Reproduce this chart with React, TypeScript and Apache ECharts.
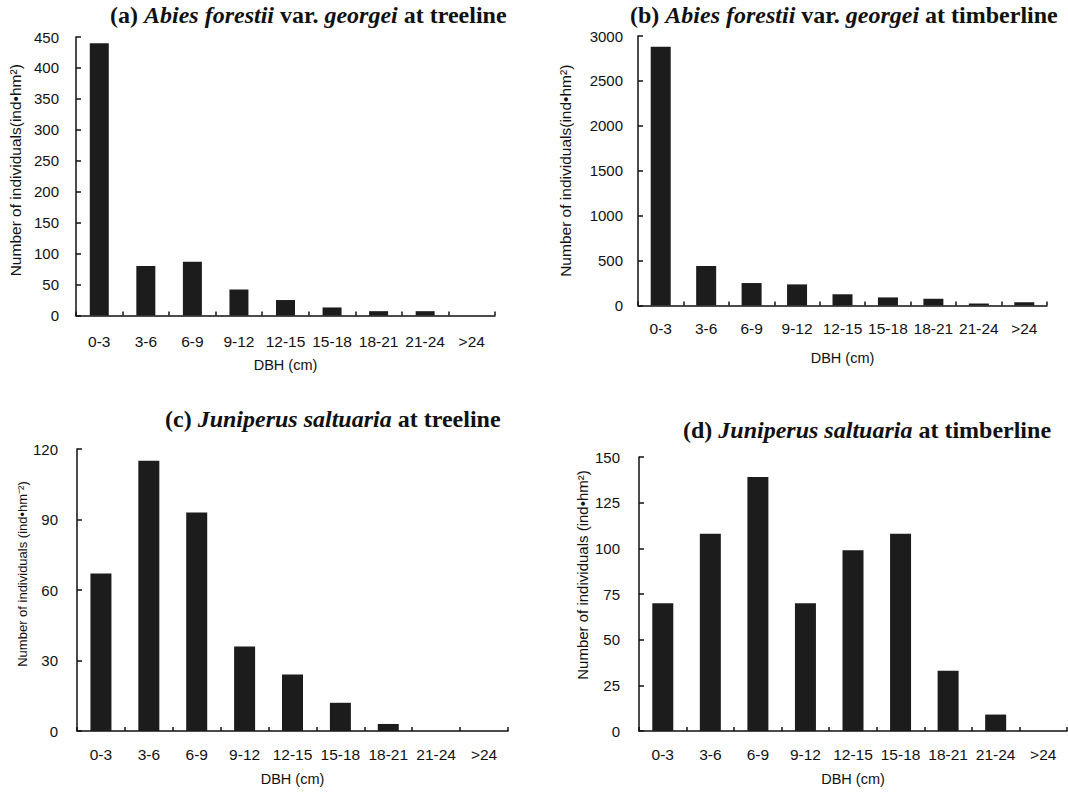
import React, { useEffect, useRef } from "react";
import * as echarts from "echarts";

const categories = ["0-3", "3-6", "6-9", "9-12", "12-15", "15-18", "18-21", "21-24", ">24"];
const valuesA = [440, 80, 87, 42, 25, 13, 7, 7, 0];
const valuesB = [2880, 440, 250, 235, 125, 90, 75, 22, 37];
const valuesC = [67, 115, 93, 36, 24, 12, 3, 0, 0];
const valuesD = [70, 108, 139, 70, 99, 108, 33, 9, 0];

const yMaxA = 450, yStepA = 50;
const yMaxB = 3000, yStepB = 500;
const yMaxC = 120, yStepC = 30;
const yMaxD = 150, yStepD = 25;

const yNameA = "Number of individuals(ind•hm²)";
const yNameB = "Number of individuals(ind•hm²)";
const yNameC = "Number of individuals (ind•hm⁻²)";
const yNameD = "Number of individuals (ind•hm²)";
const xName = "DBH (cm)";

const titleA = "{n|(a) }{i|Abies forestii}{n| var. }{i|georgei}{n| at treeline}";
const titleB = "{n|(b) }{i|Abies forestii}{n| var. }{i|georgei}{n| at timberline}";
const titleC = "{n|(c) }{i|Juniperus saltuaria}{n| at treeline}";
const titleD = "{n|(d) }{i|Juniperus saltuaria}{n| at timberline}";

const SANS = "'Liberation Sans', Arial, sans-serif";
const SERIF = "'Liberation Serif', 'Times New Roman', serif";

export default function App() {
  const ref = useRef<HTMLDivElement>(null);

  useEffect(() => {
    if (!ref.current) return;
    const chart = echarts.init(ref.current, null, { renderer: "svg" });

    const grids = [
      { left: 76, top: 37, width: 419, height: 278.5 },
      { left: 638, top: 36, width: 409, height: 269.5 },
      { left: 77, top: 449, width: 431, height: 282 },
      { left: 639, top: 457, width: 428, height: 274 },
    ];

    const richTitle = {
      n: { fontFamily: SERIF, fontWeight: "bold" as const, fontSize: 24, color: "#111" },
      i: { fontFamily: SERIF, fontWeight: "bold" as const, fontStyle: "italic" as const, fontSize: 24, color: "#111" },
    };
    const titles = [
      { text: titleA, left: 110, top: 3 },
      { text: titleB, left: 630, top: 3 },
      { text: titleC, left: 165, top: 407 },
      { text: titleD, left: 683, top: 418 },
    ].map((t) => ({ ...t, padding: 0, textStyle: { rich: richTitle } }));

    const axisLineStyle = { color: "#111", width: 1.5 };

    const xCfg = [
      { labelMargin: 18, nameGap: 42 },
      { labelMargin: 15, nameGap: 45 },
      { labelMargin: 15, nameGap: 40 },
      { labelMargin: 15, nameGap: 40 },
    ];
    const xAxes = xCfg.map((c, i) => ({
      type: "category" as const,
      gridIndex: i,
      data: categories,
      boundaryGap: true,
      name: xName,
      nameLocation: "middle" as const,
      nameGap: c.nameGap,
      nameTextStyle: { fontFamily: SANS, fontSize: 14.5, color: "#111" },
      axisLine: { show: true, lineStyle: axisLineStyle },
      axisTick: { show: true, inside: true, length: 4, lineStyle: axisLineStyle },
      axisLabel: { fontFamily: SANS, fontSize: 15.5, color: "#111", margin: c.labelMargin, interval: 0 },
      splitLine: { show: false },
    }));

    const yCfg = [
      { max: yMaxA, step: yStepA, name: yNameA, gap: 53, fs: 15.5, margin: 17, pad: 12 },
      { max: yMaxB, step: yStepB, name: yNameB, gap: 65, fs: 15.5, margin: 15, pad: 0 },
      { max: yMaxC, step: yStepC, name: yNameC, gap: 44, fs: 13, margin: 19, pad: 32 },
      { max: yMaxD, step: yStepD, name: yNameD, gap: 49, fs: 15, margin: 19, pad: 38 },
    ];
    const yAxes = yCfg.map((c, i) => ({
      type: "value" as const,
      gridIndex: i,
      min: 0,
      max: c.max,
      interval: c.step,
      name: c.name,
      nameLocation: "middle" as const,
      nameGap: c.gap,
      nameTextStyle: { fontFamily: SANS, fontSize: c.fs, color: "#111", padding: [0, 0, 0, c.pad] },
      axisLine: { show: true, lineStyle: axisLineStyle },
      axisTick: { show: true, inside: true, length: 5, lineStyle: axisLineStyle },
      axisLabel: {
        fontFamily: SANS,
        fontSize: 15,
        color: "#111",
        margin: c.margin,
        formatter: (v: number) => String(v),
      },
      splitLine: { show: false },
    }));

    const datasets = [valuesA, valuesB, valuesC, valuesD];
    const barWidths = [19, 20, 21, 21];
    const series = datasets.map((d, i) => ({
      type: "bar" as const,
      xAxisIndex: i,
      yAxisIndex: i,
      data: d,
      barWidth: barWidths[i],
      itemStyle: { color: "#1c1c1c" },
    }));

    chart.setOption({
      animation: false,
      backgroundColor: "#fff",
      title: titles,
      grid: grids,
      xAxis: xAxes,
      yAxis: yAxes,
      series,
    });

    return () => chart.dispose();
  }, []);

  return (
    <div
      ref={ref}
      style={{ position: "absolute", left: 0, top: 0, width: 1068, height: 793, background: "#fff" }}
    />
  );
}
